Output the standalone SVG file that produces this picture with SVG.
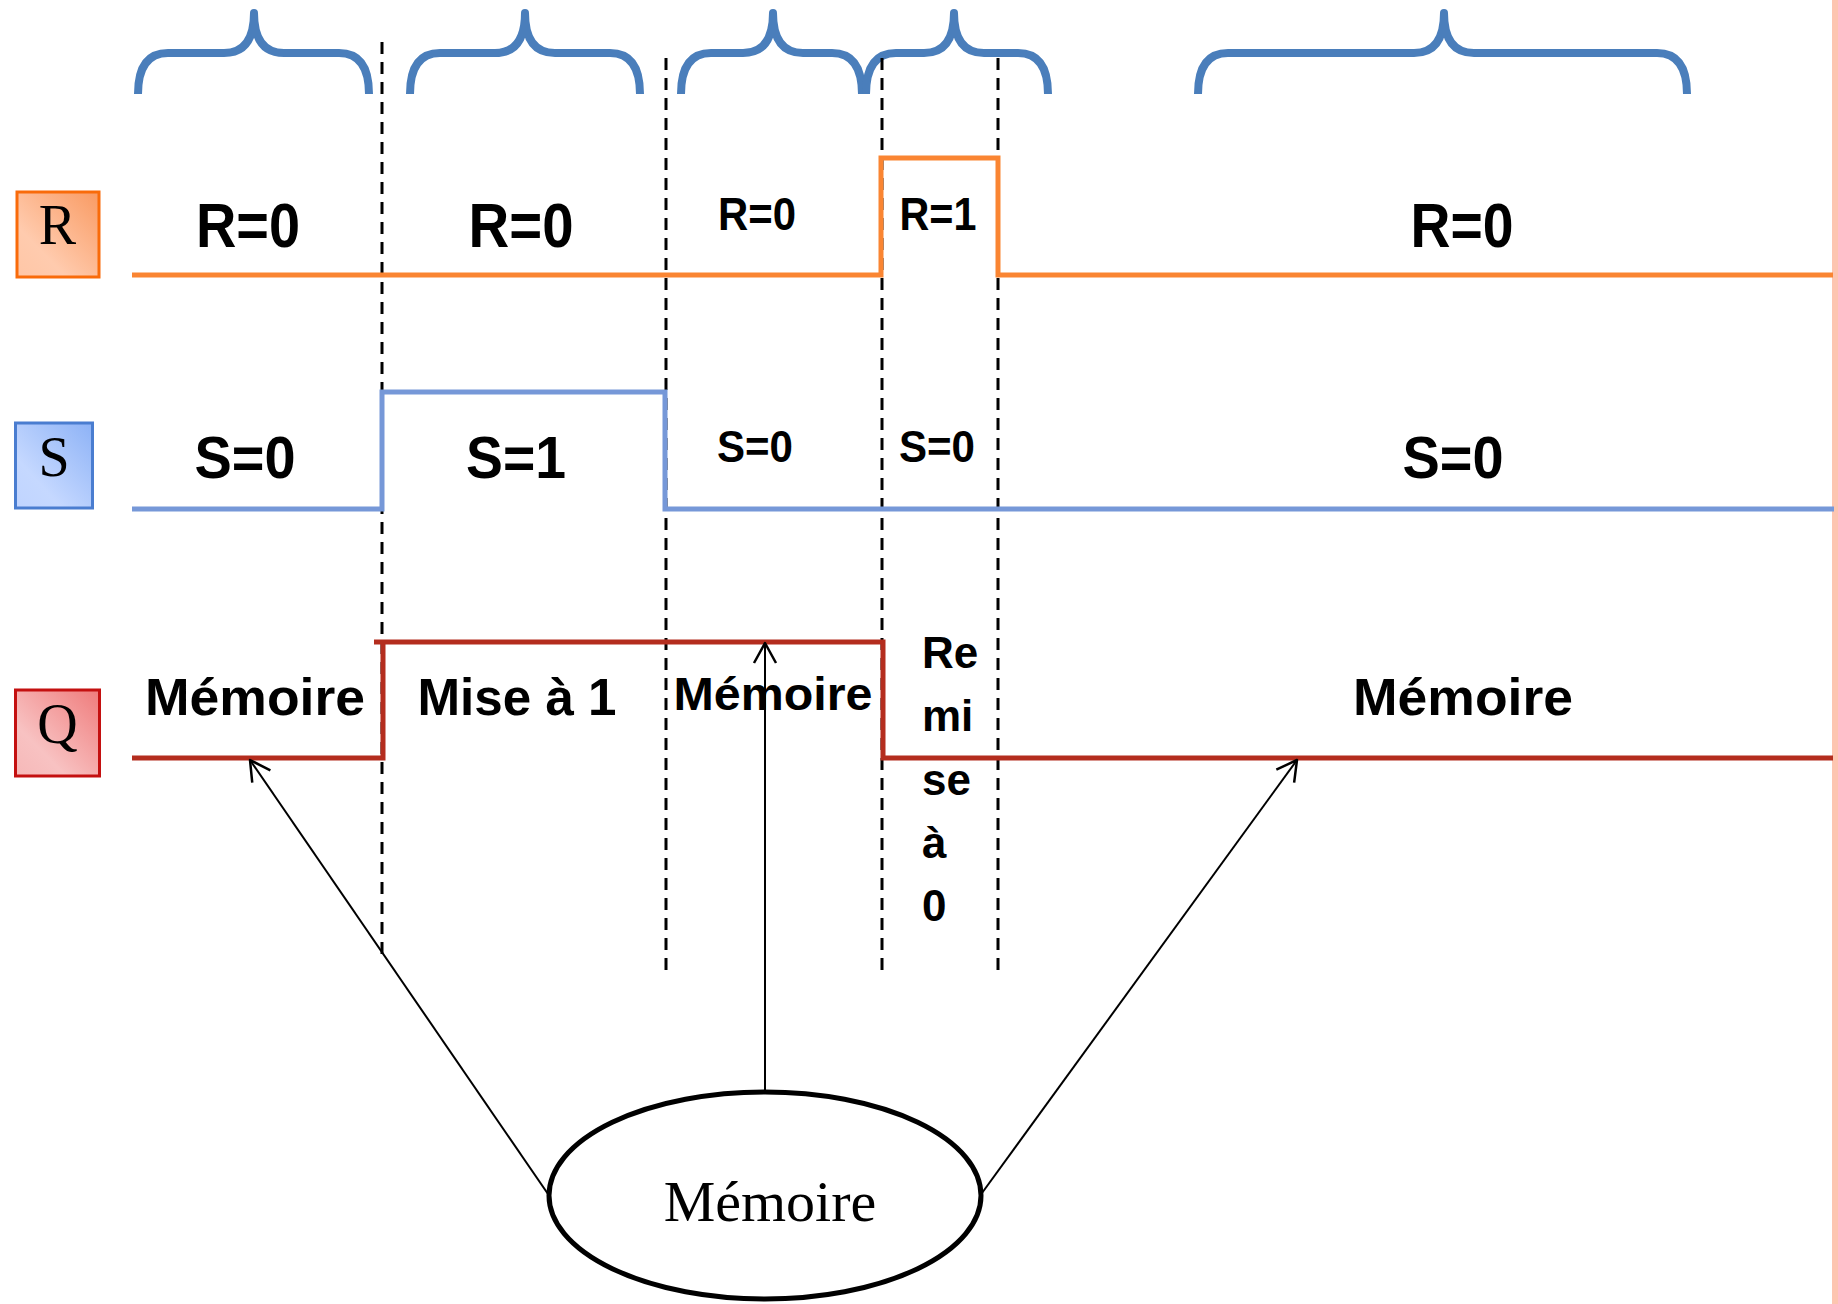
<svg xmlns="http://www.w3.org/2000/svg" width="1838" height="1304" viewBox="0 0 1838 1304">
  <defs>
    <linearGradient id="gradR" x1="1" y1="0" x2="0" y2="1">
      <stop offset="0" stop-color="#F99A62"/>
      <stop offset="0.7" stop-color="#FFCBAE"/>
      <stop offset="1" stop-color="#FFC6A6"/>
    </linearGradient>
    <linearGradient id="gradS" x1="1" y1="0" x2="0" y2="1">
      <stop offset="0" stop-color="#8DB2F6"/>
      <stop offset="0.7" stop-color="#C5D8FF"/>
      <stop offset="1" stop-color="#C0D4FF"/>
    </linearGradient>
    <linearGradient id="gradQ" x1="1" y1="0" x2="0" y2="1">
      <stop offset="0" stop-color="#EF7B7B"/>
      <stop offset="0.7" stop-color="#F8C2C2"/>
      <stop offset="1" stop-color="#F6B8B8"/>
    </linearGradient>
    <marker id="openArrow" markerUnits="userSpaceOnUse" markerWidth="30" markerHeight="30" viewBox="0 0 30 30" refX="22" refY="15" orient="auto">
      <path d="M2,4 L22,15 L2,26" fill="none" stroke="#000" stroke-width="2.5" stroke-linejoin="round"/>
    </marker>
  </defs>
  <style>
    .brace { fill: none; stroke: #4A7EBB; stroke-width: 8; stroke-linejoin: round; }
    .divider { stroke: #000; stroke-width: 3; stroke-dasharray: 12 8; fill: none; }
    .trace { fill: none; stroke-width: 5; stroke-linejoin: miter; }
    .traceR { stroke: #FA8532; }
    .traceS { stroke: #7698D8; }
    .traceQ { stroke: #B42D1E; }
    .lbl { font-family: "Liberation Sans", Arial, sans-serif; font-weight: bold; fill: #000; text-anchor: middle; }
    .lblLeft { font-family: "Liberation Sans", Arial, sans-serif; font-weight: bold; fill: #000; }
    .boxTxt { font-family: "Liberation Serif", "Times New Roman", serif; fill: #000; text-anchor: middle; }
    .conn { stroke: #000; stroke-width: 2; fill: none; marker-end: url(#openArrow); }
  </style>

  <rect width="1838" height="1304" fill="#FFFFFF"/>
  <!-- page edge strip -->
  <rect x="1832" y="0" width="6" height="1304" fill="#FDC5B0"/>

  <!-- interval braces -->
  <g id="braces">
    <path class="brace" d="M138,94 Q138,53 168,53 L224,53 Q254,53 254,13 Q254,53 284,53 L339,53 Q369,53 369,94"/>
    <path class="brace" d="M410,94 Q410,53 440,53 L495,53 Q525,53 525,13 Q525,53 555,53 L610,53 Q640,53 640,94"/>
    <path class="brace" d="M681,94 Q681,53 711,53 L743,53 Q773,53 773,13 Q773,53 803,53 L832,53 Q862,53 862,94"/>
    <path class="brace" d="M866,94 Q866,53 896,53 L924,53 Q954,53 954,13 Q954,53 984,53 L1018,53 Q1048,53 1048,94"/>
    <path class="brace" d="M1198,94 Q1198,53 1228,53 L1414,53 Q1444,53 1444,13 Q1444,53 1474,53 L1657,53 Q1687,53 1687,94"/>
  </g>

  <!-- dashed time dividers -->
  <g id="dividers">
    <line class="divider" x1="382" y1="42" x2="382" y2="957"/>
    <line class="divider" x1="666" y1="58" x2="666" y2="975"/>
    <line class="divider" x1="882" y1="58" x2="882" y2="975"/>
    <line class="divider" x1="998" y1="58" x2="998" y2="975"/>
  </g>

  <!-- signal traces -->
  <g id="traces">
    <path class="trace traceR" d="M132,275 H881 V158 H998 V275 H1833"/>
    <path class="trace traceS" d="M132,509 H382 V392 H665 V509 H1834"/>
    <path class="trace traceQ" d="M132,758 H383 V642"/>
    <path class="trace traceQ" d="M374,642 H883 V758 H1833"/>
  </g>

  <!-- signal name boxes -->
  <g id="node-R">
    <rect x="17" y="192" width="82" height="85" fill="url(#gradR)" stroke="#F96B0A" stroke-width="3"/>
    <text class="boxTxt" x="57.5" y="244" font-size="56">R</text>
  </g>
  <g id="node-S">
    <rect x="15.5" y="423" width="77" height="85" fill="url(#gradS)" stroke="#4A7DD0" stroke-width="3"/>
    <text class="boxTxt" x="54" y="476" font-size="56">S</text>
  </g>
  <g id="node-Q">
    <rect x="15.5" y="690" width="84" height="86" fill="url(#gradQ)" stroke="#C41010" stroke-width="3"/>
    <text class="boxTxt" x="57.5" y="743" font-size="56">Q</text>
  </g>

  <!-- R row labels -->
  <g id="labels-R">
    <text class="lbl" x="248" y="247" font-size="63" textLength="104" lengthAdjust="spacingAndGlyphs">R=0</text>
    <text class="lbl" x="521" y="247" font-size="63" textLength="105" lengthAdjust="spacingAndGlyphs">R=0</text>
    <text class="lbl" x="757" y="230" font-size="46" textLength="78" lengthAdjust="spacingAndGlyphs">R=0</text>
    <text class="lbl" x="938" y="230" font-size="46" textLength="77" lengthAdjust="spacingAndGlyphs">R=1</text>
    <text class="lbl" x="1462" y="247" font-size="63" textLength="103" lengthAdjust="spacingAndGlyphs">R=0</text>
  </g>

  <!-- S row labels -->
  <g id="labels-S">
    <text class="lbl" x="245" y="478" font-size="60" textLength="101" lengthAdjust="spacingAndGlyphs">S=0</text>
    <text class="lbl" x="516" y="478" font-size="60" textLength="100" lengthAdjust="spacingAndGlyphs">S=1</text>
    <text class="lbl" x="755" y="462" font-size="45" textLength="76" lengthAdjust="spacingAndGlyphs">S=0</text>
    <text class="lbl" x="937" y="462" font-size="45" textLength="76" lengthAdjust="spacingAndGlyphs">S=0</text>
    <text class="lbl" x="1453" y="478" font-size="60" textLength="101" lengthAdjust="spacingAndGlyphs">S=0</text>
  </g>

  <!-- Q row labels -->
  <g id="labels-Q">
    <text class="lbl" x="255" y="715" font-size="52" textLength="220" lengthAdjust="spacingAndGlyphs">Mémoire</text>
    <text class="lbl" x="517" y="715" font-size="52" textLength="199" lengthAdjust="spacingAndGlyphs">Mise à 1</text>
    <text class="lbl" x="773" y="710" font-size="46" textLength="199" lengthAdjust="spacingAndGlyphs">Mémoire</text>
    <text class="lblLeft" font-size="44">
      <tspan x="922" y="668">Re</tspan>
      <tspan x="922" y="731">mi</tspan>
      <tspan x="922" y="795">se</tspan>
      <tspan x="922" y="858">à</tspan>
      <tspan x="922" y="921">0</tspan>
    </text>
    <text class="lbl" x="1463" y="715" font-size="52" textLength="220" lengthAdjust="spacingAndGlyphs">Mémoire</text>
  </g>

  <!-- memory state bubble -->
  <g id="node-memoire">
    <ellipse cx="765" cy="1195.5" rx="216" ry="103.5" fill="#FFFFFF" stroke="#000" stroke-width="5"/>
    <text class="boxTxt" x="770" y="1221" font-size="58">Mémoire</text>
  </g>

  <!-- arrows from the bubble to the hold intervals -->
  <g id="connectors">
    <line class="conn" x1="548" y1="1194" x2="250" y2="760"/>
    <line class="conn" x1="765" y1="1092" x2="765" y2="643"/>
    <line class="conn" x1="982" y1="1193" x2="1297" y2="760"/>
  </g>
</svg>
